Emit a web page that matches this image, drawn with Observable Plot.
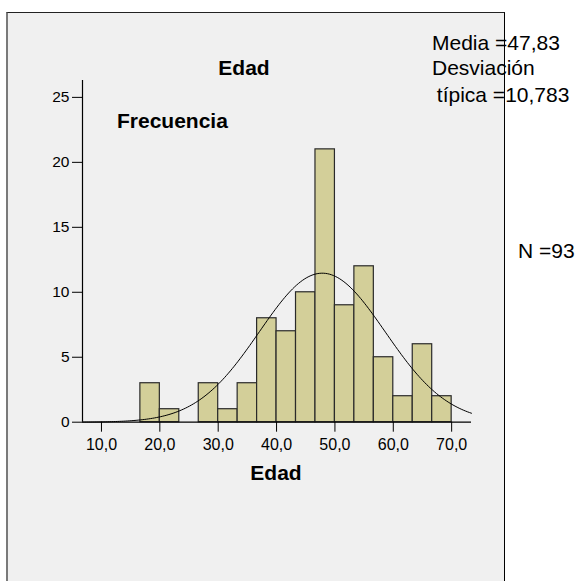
<!DOCTYPE html>
<html>
<head>
<meta charset="utf-8">
<script src="https://cdn.jsdelivr.net/npm/d3@7"></script>
<script src="https://cdn.jsdelivr.net/npm/@observablehq/plot@0.6"></script>
<style>
  html, body { margin: 0; padding: 0; background: #fff; }
  #wrap { position: relative; width: 577px; height: 581px; overflow: hidden; font-family: "Liberation Sans", Arial, sans-serif; }
  #panel { position: absolute; left: 6px; top: 12px; width: 499px; height: 580px; background: #f0f0f0;
           border-left: 2px solid #7a7a7a; border-top: 1px solid #222; border-right: 1px solid #000; box-sizing: border-box; }
  #chart { position: absolute; left: 0; top: 0; }
</style>
</head>
<body>
<div id="wrap"><div id="panel"></div><div id="chart"></div></div>
<script>
// Data
const binStarts = [16.667, 20, 23.333, 26.667, 30, 33.333, 36.667, 40, 43.333, 46.667, 50, 53.333, 56.667, 60, 63.333, 66.667];
const counts    = [3, 1, 0, 3, 1, 3, 8, 7, 10, 21, 9, 12, 5, 2, 6, 2];
const binWidth = 10 / 3;
const xTicks = [10, 20, 30, 40, 50, 60, 70];
const yTicks = [0, 5, 10, 15, 20, 25];
const xDomain = [6.75, 73.4];
const yDomain = [0, 26.3];
const stats = { mean: 47.83, sd: 10.783, n: 93 };
const titleText = "Edad";
const yLabelText = "Frecuencia";
const xLabelText = "Edad";
const statLines = ["Media =47,83", "Desviación", " típica =10,783"];
const nText = "N =93";

const bars = binStarts.map((s, i) => ({ x1: s, x2: s + binWidth, y: counts[i] })).filter(d => d.y > 0);

// Fitted normal curve from the stated mean / sd, scaled to counts per bin
const curve = d3.range(0, 201).map(i => {
  const x = xDomain[0] + (xDomain[1] - xDomain[0]) * i / 200;
  const z = (x - stats.mean) / stats.sd;
  return { x, y: stats.n * binWidth * Math.exp(-0.5 * z * z) / (stats.sd * Math.sqrt(2 * Math.PI)) };
});

const fmt = d => d.toFixed(1).replace(".", ",");

const plot = Plot.plot({
  width: 577,
  height: 581,
  marginLeft: 82,
  marginRight: 106,
  marginTop: 80,
  marginBottom: 159.3,
  style: { background: "transparent", fontFamily: "Liberation Sans, Arial, sans-serif", fontSize: "16px", color: "#000" },
  x: { domain: xDomain },
  y: { domain: yDomain },
  marks: [
    Plot.rectY(bars, { x1: "x1", x2: "x2", y: "y", fill: "#d3cf99", stroke: "#2a2a2a", strokeWidth: 1.2 }),
    Plot.line(curve, { x: "x", y: "y", stroke: "#000", strokeWidth: 1 }),
    Plot.ruleY([yDomain[0]], { stroke: "#000", strokeWidth: 1.2 }),
    Plot.ruleX([xDomain[0]], { stroke: "#000", strokeWidth: 1.2 }),
    Plot.axisX({ ticks: xTicks, tickFormat: fmt, tickSize: 10, tickPadding: 6, label: null, fontSize: 16, stroke: "#000" }),
    Plot.axisY({ ticks: yTicks, tickSize: 10, tickPadding: 3, label: null, fontSize: 15.5, stroke: "#000" })
  ]
});

const svg = d3.select(plot);
const addText = (t, x, y, anchor, weight) =>
  svg.append("text").attr("x", x).attr("y", y).attr("text-anchor", anchor)
    .attr("font-size", 21).attr("font-weight", weight).attr("fill", "#000")
    .attr("font-family", "Liberation Sans, Arial, sans-serif").style("white-space", "pre").text(t);

addText(titleText, 244, 75, "middle", "bold");
addText(yLabelText, 117, 128, "start", "bold");
addText(xLabelText, 276, 480, "middle", "bold");
addText(statLines[0], 432, 50, "start", "normal");
addText(statLines[1], 432, 75, "start", "normal");
addText(statLines[2], 431, 101.5, "start", "normal");
addText(nText, 518, 257.5, "start", "normal");

document.getElementById("chart").appendChild(plot);
</script>
</body>
</html>
